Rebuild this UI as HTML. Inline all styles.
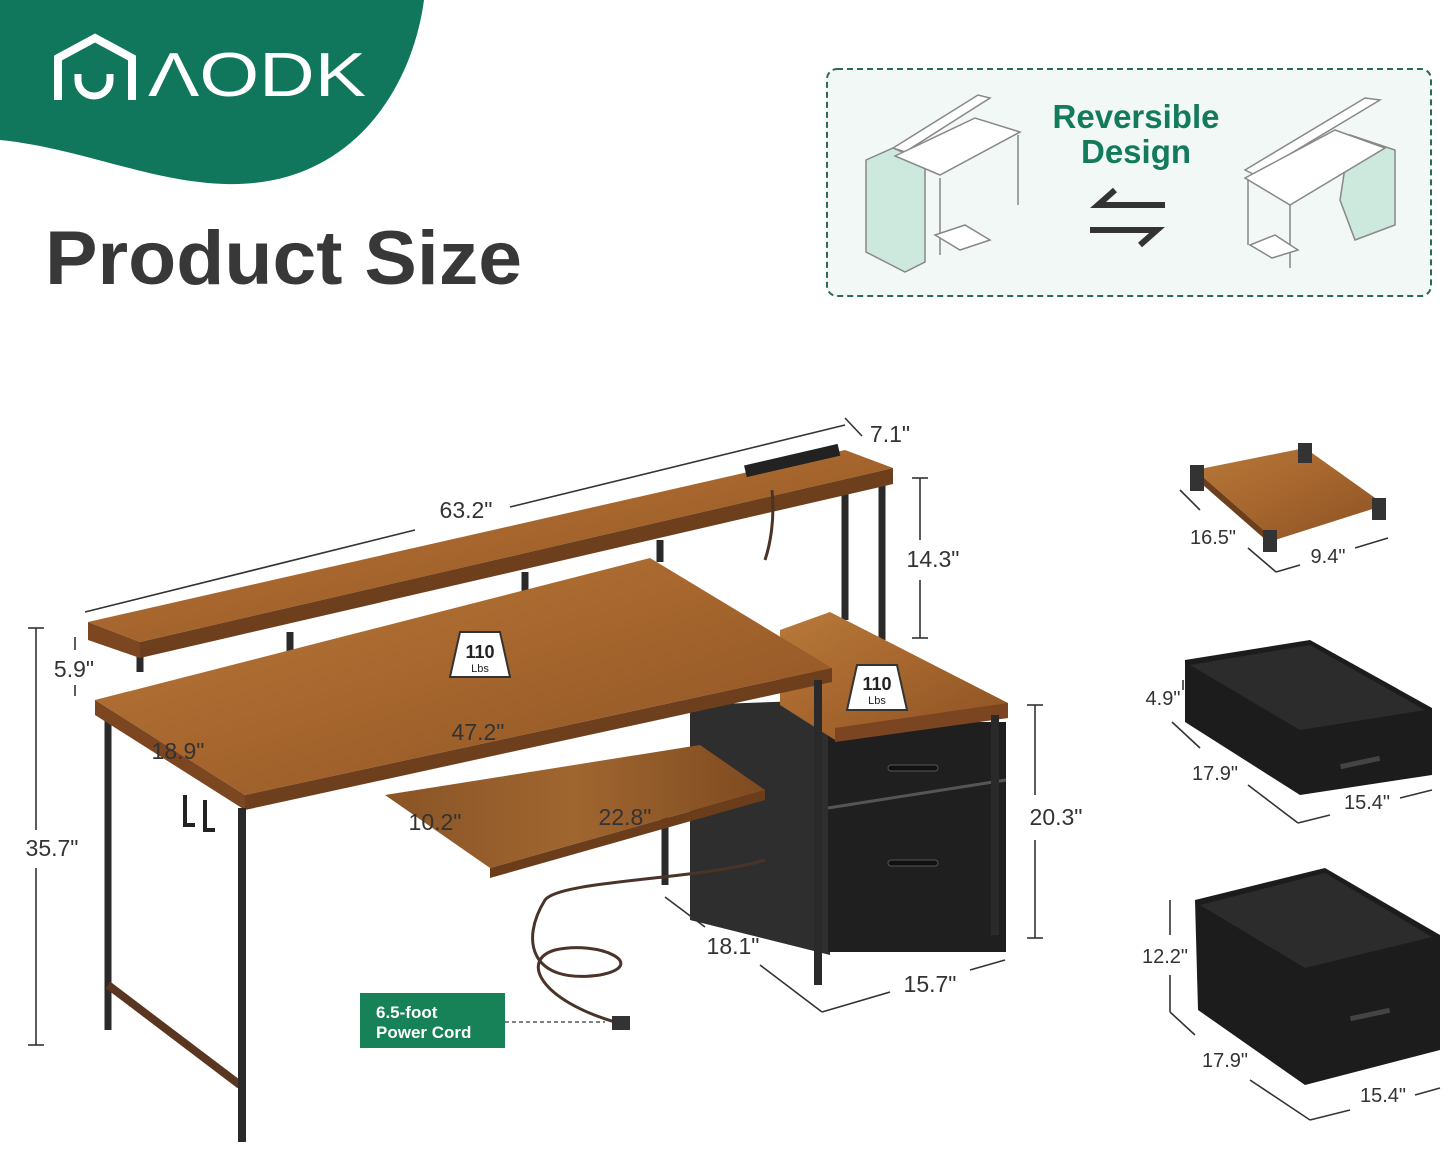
<!DOCTYPE html>
<html><head><meta charset="utf-8"><style>
html,body{margin:0;padding:0;background:#fff}
svg{display:block}
text{font-family:"Liberation Sans",sans-serif}
</style></head><body>
<svg width="1445" height="1151" viewBox="0 0 1445 1151" xmlns="http://www.w3.org/2000/svg">
<defs>
<linearGradient id="wood" x1="0" y1="0" x2="1" y2="1">
<stop offset="0" stop-color="#b8793a"/><stop offset="0.5" stop-color="#a5652d"/><stop offset="1" stop-color="#8c5224"/></linearGradient>
<linearGradient id="wood2" x1="0" y1="0" x2="1" y2="0">
<stop offset="0" stop-color="#8a5426"/><stop offset="0.5" stop-color="#a06630"/><stop offset="1" stop-color="#7e4a20"/></linearGradient>
</defs>
<rect width="1445" height="1151" fill="#fff"/>
<path d="M0,0 H424 C412,90 350,188 225,184 C150,182 80,148 0,140 Z" fill="#11775c"/>
<path d="M58,100 V58 L95,38 L132,58 V100" fill="none" stroke="#fff" stroke-width="8"/>
<path d="M78,74 V80 A16,16 0 0 0 110,80 V74" fill="none" stroke="#fff" stroke-width="7"/>
<text x="148" y="96" font-size="62" fill="#fff" textLength="218" lengthAdjust="spacingAndGlyphs">ΛODK</text>
<text x="45" y="284" font-size="76" font-weight="bold" fill="#383838" textLength="477" lengthAdjust="spacingAndGlyphs">Product Size</text>

<rect x="827" y="69" width="604" height="227" rx="10" fill="#f1f8f5" stroke="#2c6b52" stroke-width="2" stroke-dasharray="6,4"/>
<text x="1136" y="128" font-size="33" font-weight="bold" fill="#137a5b" text-anchor="middle">Reversible</text>
<text x="1136" y="163" font-size="33" font-weight="bold" fill="#137a5b" text-anchor="middle">Design</text>
<path d="M1165,205 H1098 L1115,190" fill="none" stroke="#333" stroke-width="6"/>
<path d="M1090,230 H1157 L1140,245" fill="none" stroke="#333" stroke-width="6"/>
<g stroke="#888" stroke-width="1.5">
<polygon points="866,160 893,148 925,162 925,262 905,272 866,252" fill="#cde8dc"/>
<polygon points="893,148 905,152 990,98 978,95" fill="#fff"/>
<polygon points="895,156 975,118 1020,132 940,175" fill="#fff"/>
<line x1="1018" y1="135" x2="1018" y2="205"/><line x1="940" y1="178" x2="940" y2="255"/>
<polygon points="935,235 965,225 990,240 960,250" fill="#fff"/>
</g>
<g stroke="#888" stroke-width="1.5">
<polygon points="1350,135 1395,150 1395,225 1355,240 1340,200" fill="#cde8dc"/>
<polygon points="1245,170 1365,98 1380,100 1255,175" fill="#fff"/>
<polygon points="1245,178 1335,130 1385,148 1290,205" fill="#fff"/>
<line x1="1248" y1="180" x2="1248" y2="245"/><line x1="1290" y1="205" x2="1290" y2="268"/>
<polygon points="1250,245 1275,235 1298,250 1272,258" fill="#fff"/>
</g>

<g>
<g stroke="#2a2a2a" stroke-width="7">
<line x1="108" y1="712" x2="108" y2="1030"/>
<line x1="665" y1="760" x2="665" y2="885"/>
<line x1="845" y1="480" x2="845" y2="620"/>
<line x1="882" y1="475" x2="882" y2="640"/>
<line x1="140" y1="645" x2="140" y2="672"/>
<line x1="290" y1="632" x2="290" y2="668"/>
<line x1="525" y1="572" x2="525" y2="606"/>
<line x1="660" y1="540" x2="660" y2="562"/>
</g>
<line x1="108" y1="985" x2="240" y2="1085" stroke="#5a3520" stroke-width="8"/>
<polygon points="690,705 830,700 830,955 690,920" fill="#2e2e2e"/>
<rect x="828" y="722" width="178" height="230" fill="#1f1f1f"/>
<line x1="828" y1="808" x2="1006" y2="780" stroke="#555" stroke-width="3"/>
<rect x="888" y="765" width="50" height="6" rx="3" fill="#111" stroke="#555"/>
<rect x="888" y="860" width="50" height="6" rx="3" fill="#111" stroke="#555"/>
<polygon points="780,630 830,612 1008,703 1008,718 835,740 780,705" fill="url(#wood)"/>
<polygon points="835,728 1008,703 1008,718 835,742" fill="#7a4520"/>
<polygon points="95,700 650,558 832,668 245,795" fill="url(#wood)"/>
<polygon points="95,700 245,795 245,810 95,715" fill="#7b4620"/>
<polygon points="245,795 832,668 832,682 245,810" fill="#6e3f1c"/>
<polygon points="385,795 700,745 765,790 490,868" fill="url(#wood2)"/>
<polygon points="490,868 765,790 765,800 490,878" fill="#6b3d1b"/>
<g stroke="#2a2a2a" stroke-width="8">
<line x1="242" y1="808" x2="242" y2="1142"/>
<line x1="818" y1="680" x2="818" y2="985"/>
<line x1="995" y1="715" x2="995" y2="935"/>
</g>
<path d="M185,795 V825 h10 M205,800 V830 h10" fill="none" stroke="#222" stroke-width="4"/>
<polygon points="88,622 845,450 893,468 140,642" fill="url(#wood)"/>
<polygon points="88,622 140,642 140,658 88,640" fill="#7b4620"/>
<polygon points="140,642 893,468 893,484 140,658" fill="#6e3f1c"/>
<rect x="744" y="455" width="96" height="12" transform="rotate(-13 790 460)" fill="#222"/>
<path d="M772,490 C775,520 770,545 765,560 M765,860 C700,880 560,880 545,900 C520,940 530,985 600,975 C650,965 600,940 555,950 C520,960 540,1000 615,1022" fill="none" stroke="#4a3328" stroke-width="3"/>
<rect x="612" y="1016" width="18" height="14" fill="#333"/>
<g>
<path d="M460,632 h40 l10,45 h-60 z" fill="#fff" stroke="#333" stroke-width="2"/>
<text x="480" y="658" font-size="18" font-weight="bold" text-anchor="middle" fill="#222">110</text>
<text x="480" y="672" font-size="11" text-anchor="middle" fill="#222">Lbs</text>
<path d="M857,665 h40 l10,45 h-60 z" fill="#fff" stroke="#333" stroke-width="2"/>
<text x="877" y="690" font-size="18" font-weight="bold" text-anchor="middle" fill="#222">110</text>
<text x="877" y="704" font-size="11" text-anchor="middle" fill="#222">Lbs</text>
</g>
</g>

<rect x="360" y="993" width="145" height="55" fill="#178157"/>
<text x="376" y="1018" font-size="17" font-weight="bold" fill="#fff">6.5-foot</text>
<text x="376" y="1038" font-size="17" font-weight="bold" fill="#fff">Power Cord</text>
<line x1="505" y1="1022" x2="605" y2="1022" stroke="#555" stroke-width="1.5" stroke-dasharray="4,3"/>

<g stroke="#333" stroke-width="1.6" fill="none">
<line x1="85" y1="612" x2="415" y2="530"/><line x1="510" y1="507" x2="845" y2="425"/>
<line x1="845" y1="418" x2="862" y2="436"/>
<line x1="920" y1="478" x2="920" y2="540"/><line x1="920" y1="580" x2="920" y2="638"/>
<line x1="912" y1="478" x2="928" y2="478"/><line x1="912" y1="638" x2="928" y2="638"/>
<line x1="36" y1="628" x2="36" y2="830"/><line x1="36" y1="868" x2="36" y2="1045"/>
<line x1="28" y1="628" x2="44" y2="628"/><line x1="28" y1="1045" x2="44" y2="1045"/>
<line x1="75" y1="637" x2="75" y2="650"/><line x1="75" y1="685" x2="75" y2="696"/>
<line x1="1035" y1="705" x2="1035" y2="795"/><line x1="1035" y1="840" x2="1035" y2="938"/>
<line x1="1027" y1="705" x2="1043" y2="705"/><line x1="1027" y1="938" x2="1043" y2="938"/>
<line x1="665" y1="897" x2="705" y2="927"/><line x1="760" y1="965" x2="822" y2="1012"/>
<line x1="822" y1="1012" x2="890" y2="992"/><line x1="970" y1="970" x2="1005" y2="960"/>
<line x1="1180" y1="490" x2="1200" y2="510"/><line x1="1248" y1="548" x2="1276" y2="572"/>
<line x1="1276" y1="572" x2="1300" y2="565"/><line x1="1355" y1="548" x2="1388" y2="538"/>
<line x1="1183" y1="680" x2="1183" y2="690"/>
<line x1="1172" y1="722" x2="1200" y2="748"/><line x1="1248" y1="785" x2="1298" y2="823"/>
<line x1="1298" y1="823" x2="1330" y2="815"/><line x1="1400" y1="798" x2="1432" y2="790"/>
<line x1="1170" y1="900" x2="1170" y2="935"/><line x1="1170" y1="975" x2="1170" y2="1012"/>
<line x1="1170" y1="1012" x2="1195" y2="1035"/><line x1="1250" y1="1080" x2="1310" y2="1120"/>
<line x1="1310" y1="1120" x2="1350" y2="1110"/><line x1="1415" y1="1095" x2="1440" y2="1088"/>
</g>
<polygon points="1195,470 1305,448 1385,505 1275,540" fill="url(#wood)"/>
<polygon points="1195,470 1275,540 1275,548 1195,478" fill="#6e3f1c"/>
<rect x="1190" y="465" width="14" height="26" fill="#333"/><rect x="1298" y="443" width="14" height="20" fill="#333"/>
<rect x="1263" y="530" width="14" height="22" fill="#333"/><rect x="1372" y="498" width="14" height="22" fill="#333"/>
<polygon points="1185,660 1310,640 1432,708 1432,775 1300,795 1185,722" fill="#1c1c1c"/>
<polygon points="1190,665 1310,645 1425,710 1300,730" fill="#2c2c2c"/>
<rect x="1340" y="760" width="40" height="5" fill="#444" transform="rotate(-12 1360 762)"/>
<polygon points="1195,900 1325,868 1440,935 1440,1050 1305,1085 1198,1010" fill="#1c1c1c"/>
<polygon points="1200,905 1325,873 1432,937 1305,968" fill="#2c2c2c"/>
<rect x="1350" y="1012" width="40" height="5" fill="#444" transform="rotate(-12 1370 1014)"/>

<g font-size="23" fill="#333" text-anchor="middle">
<text x="466" y="518">63.2"</text>
<text x="890" y="442">7.1"</text>
<text x="933" y="567">14.3"</text>
<text x="74" y="677">5.9"</text>
<text x="52" y="856">35.7"</text>
<text x="178" y="759">18.9"</text>
<text x="478" y="740">47.2"</text>
<text x="435" y="830">10.2"</text>
<text x="625" y="825">22.8"</text>
<text x="1056" y="825">20.3"</text>
<text x="733" y="954">18.1"</text>
<text x="930" y="992">15.7"</text>
</g>
<g font-size="20" fill="#333" text-anchor="middle">
<text x="1213" y="544">16.5"</text>
<text x="1328" y="563">9.4"</text>
<text x="1163" y="705">4.9"</text>
<text x="1215" y="780">17.9"</text>
<text x="1367" y="809">15.4"</text>
<text x="1165" y="963">12.2"</text>
<text x="1225" y="1067">17.9"</text>
<text x="1383" y="1102">15.4"</text>
</g>
</svg>
</body></html>
